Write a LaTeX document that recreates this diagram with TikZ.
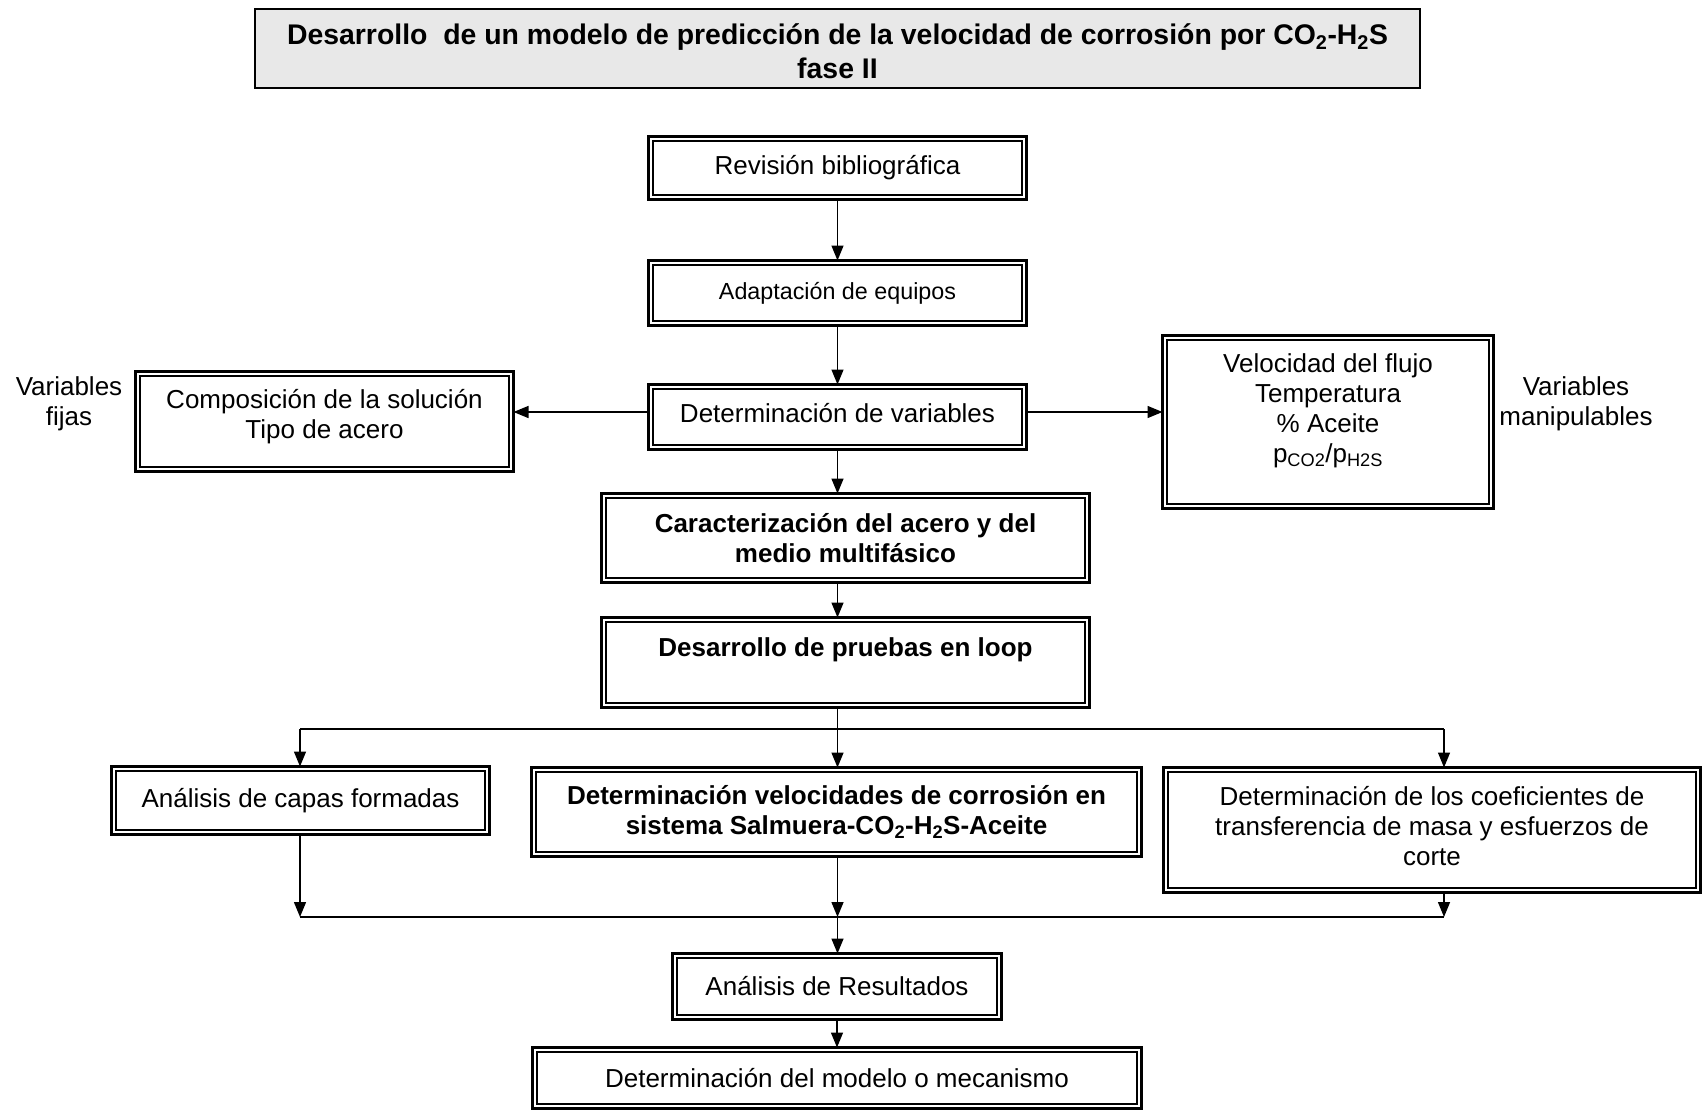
\documentclass[tikz,border=0pt]{standalone}
\usepackage{fontspec}
\setmainfont{Liberation Sans}
\usetikzlibrary{arrows.meta}
\definecolor{titlegray}{RGB}{232,232,232}
\begin{document}
\begin{tikzpicture}[x=1pt,y=-1pt,
  txt/.style={align=center, inner sep=0pt, font=\fontsize{26}{30}\selectfont},
  boldtxt/.style={font=\fontsize{26}{30}\selectfont\bfseries},
  dbox/.style={draw, line width=3pt, inner sep=0pt, txt,
    path picture={\draw[line width=1.6pt]
      ([shift={(4.6pt,4.6pt)}]path picture bounding box.south west) rectangle
      ([shift={(-4.6pt,-4.6pt)}]path picture bounding box.north east);}},
  link/.style={line width=1.4pt, shorten >=-1.5pt, -{Triangle[length=15pt,width=12pt]}},
  plain/.style={line width=1.4pt}
]
% canvas
\fill[white] (0,0) rectangle (1704,1111);
\useasboundingbox (0,0) rectangle (1704,1111);

% heading
\node[draw, fill=titlegray, line width=1.5pt, inner sep=0pt, align=center,
      minimum width=1165, minimum height=79,
      font=\fontsize{28.4}{34}\selectfont\bfseries] (title) at (837.5,48.5) {};
\node[align=center, inner sep=0pt, font=\fontsize{28.4}{34}\selectfont\bfseries] (titletxt) at (837.5,51)
  {Desarrollo~ de un modelo de predicción de la velocidad de corrosión por CO\textsubscript{2}-H\textsubscript{2}S\\fase II};

% main column
\node[dbox, minimum width=378, minimum height=63] (rev) at (837.5,168) {Revisión bibliográfica};
\node[dbox, minimum width=378, minimum height=65, font=\fontsize{23.3}{28}\selectfont] (adap) at (837.5,293) {Adaptación de equipos};
\node[dbox, minimum width=378, minimum height=65] (detvar) at (837.5,417) {};
\node[txt] (detvartxt) at (837.5,413) {Determinación de variables};

% variable boxes
\node[dbox, minimum width=378, minimum height=100] (comp) at (324.5,421.5) {};
\node[txt] (comptxt) at (324.5,417) {Composición de la solución\\Tipo de acero};
\node[txt] (fijas) at (69,403.5) {Variables\\fijas};
\node[dbox, minimum width=331, minimum height=173] (manip) at (1328,422) {};
\node[txt] (maniptxt) at (1328,411) {Velocidad del flujo\\Temperatura\\\% Aceite\\p\textsubscript{CO2}/p\textsubscript{H2S}};
\node[txt] (manlab) at (1576,404) {Variables\\manipulables};

\node[dbox, boldtxt, minimum width=488, minimum height=89] (caract) at (845.5,538) {Caracterización del acero y del\\medio multifásico};
\node[dbox, minimum width=488, minimum height=90] (loop) at (845.5,662.5) {};
\node[txt, boldtxt] (looptxt) at (845.5,650) {Desarrollo de pruebas en loop};

% parallel tasks
\node[dbox, minimum width=378, minimum height=68] (capas) at (300.5,800.5) {Análisis de capas formadas};
\node[dbox, boldtxt, minimum width=610, minimum height=89] (velo) at (836.5,812) {Determinación velocidades de corrosión en\\sistema Salmuera-CO\textsubscript{2}-H\textsubscript{2}S-Aceite};
\node[dbox, minimum width=537, minimum height=125] (coef) at (1432,830) {};
\node[txt] (coeftxt) at (1432,826) {Determinación de los coeficientes de\\transferencia de masa y esfuerzos de\\corte};

% closing steps
\node[dbox, minimum width=329, minimum height=66] (res) at (837,986.5) {Análisis de Resultados};
\node[dbox, minimum width=609, minimum height=61] (model) at (837,1078) {Determinación del modelo o mecanismo};

% connectors, main column
\draw[link] (rev.south) -- (adap.north);
\draw[link] (adap.south) -- (detvar.north);
\coordinate (vl) at ([yshift=5pt]detvar.west);
\coordinate (vr) at ([yshift=5pt]detvar.east);
\draw[link] (vl) -- (vl -| comp.east);
\draw[link] (vr) -- (vr -| manip.west);
\draw[link] (detvar.south) -- (detvar.south |- caract.north);
\draw[link] (caract.south -| rev.south) -- (loop.north -| rev.south);

% fan-out
\coordinate (split) at (837.5,729);
\coordinate (bl) at (300,729);
\coordinate (br) at (1444,729);
\draw[plain] (loop.south -| split) -- (split);
\draw[plain] (bl) -- (br);
\draw[link] (bl) -- (bl |- capas.north);
\draw[link] (split) -- (split |- velo.north);
\draw[link] (br) -- (br |- coef.north);

% fan-in
\coordinate (jl) at (300,917);
\coordinate (jc) at (837.5,917);
\coordinate (jr) at (1444,917);
\draw[link, shorten >=0pt] (capas.south -| jl) -- (jl);
\draw[link, shorten >=0pt] (velo.south -| jc) -- (jc);
\draw[link, shorten >=0pt] (coef.south -| jr) -- (jr);
\draw[plain] (jl) -- (jr);
\draw[link] (jc) -- (jc |- res.north);
\draw[link] (res.south) -- (model.north);
\end{tikzpicture}
\end{document}
